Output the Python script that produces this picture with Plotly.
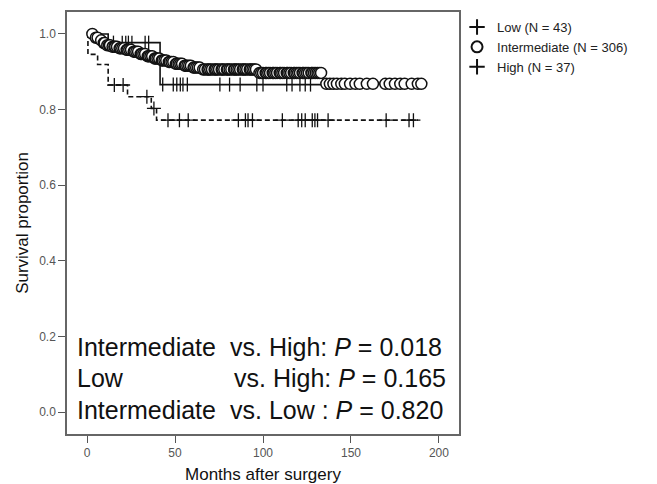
import numpy as np
import plotly.graph_objects as go

# ---------------- data ----------------
low_event_t = [12, 41.5]
low_surv = [0.977, 0.866]
low_censor = [15, 20, 22, 23.5, 25.5, 33, 35, 43, 49, 51, 53, 54.5, 57, 75.5, 81, 87,
              96.5, 100, 113.5, 116.5, 121, 124, 127]
low_end = 133

int_event_t = [4, 7, 9, 11, 14, 18, 22, 26, 30, 34, 38, 42, 46, 50, 55, 60, 65, 97, 134]
int_surv = [0.99, 0.983, 0.976, 0.97, 0.966, 0.962, 0.958, 0.953, 0.947, 0.941, 0.935,
            0.930, 0.926, 0.921, 0.916, 0.911, 0.906, 0.897, 0.868]
int_censor = [3, 5, 6, 8, 9.5, 10, 11.5, 12.5, 13, 14.5, 15.5, 16, 17, 18.5, 19, 20, 21,
              22.5, 23, 24, 25, 26.5, 27, 28, 29, 30.5, 31, 32, 33, 34.5, 35, 36, 37, 38.5,
              39, 40, 41, 42.5, 43, 44, 45, 46.5, 47, 48, 49, 50.5, 51, 52, 53, 54, 55.5,
              56, 57, 58, 59, 60.5, 61, 62, 63, 64, 66, 67, 68.5, 69, 70, 71, 72.5, 73, 74,
              75, 76.5, 77, 78, 79.5, 80, 81, 82, 83.5, 84, 85, 86, 87, 88.5, 89, 90, 91,
              92.5, 93, 94, 95, 96, 98, 99, 100, 101.5, 102, 103, 104, 105.5, 106, 107, 108,
              109.5, 110, 111, 112, 113.5, 114, 115, 116, 117.5, 118, 119, 120, 121, 122.5,
              123, 124, 125, 126, 127.5, 128, 129, 130, 131, 132, 133,
              136, 138, 140, 142, 144.5, 146.5, 149.5, 152.5, 155, 159, 162.5, 169.5, 172,
              175, 178, 180.5, 184.5, 188, 190]
int_end = 190

high_event_t = [0.5, 6, 12, 23, 36.5, 39.5]
high_surv = [0.946, 0.919, 0.865, 0.834, 0.803, 0.772]
high_censor = [15.5, 20.5, 34, 38, 46, 52.5, 57.5, 86, 90, 91.5, 94, 111, 120, 122, 124,
               128, 129.5, 131, 137, 170, 183, 185.5]
high_end = 188

x_ticks = [0, 50, 100, 150, 200]
y_ticks = [0.0, 0.2, 0.4, 0.6, 0.8, 1.0]

legend_names = ["Low (N = 43)", "Intermediate (N = 306)", "High (N = 37)"]
p_lines = [("Intermediate", "vs. High: <i>P</i> = 0.018"),
           ("Low", "vs. High: <i>P</i> = 0.165"),
           ("Intermediate", "vs. Low : <i>P</i> = 0.820")]

FONT = "Liberation Sans, Arial, sans-serif"


def step_xy(ev_t, surv, end):
    xs = [0] + list(ev_t) + [end]
    ys = [1.0] + list(surv) + [surv[-1]]
    return xs, ys


def surv_at(ev_t, surv, times):
    et = np.array(ev_t)
    sv = np.array([1.0] + list(surv))
    idx = np.searchsorted(et, np.array(times), side="right")
    return sv[idx]


fig = go.Figure()

# Low
lx, ly = step_xy(low_event_t, low_surv, low_end)
fig.add_trace(go.Scatter(x=lx, y=ly, mode="lines", line=dict(color="#111", width=1.6, shape="hv"),
                         showlegend=False, hoverinfo="skip"))
fig.add_trace(go.Scatter(x=low_censor, y=surv_at(low_event_t, low_surv, low_censor), mode="markers",
                         marker=dict(symbol="line-ns", size=10, line=dict(color="#111", width=1.3)),
                         showlegend=False))

# High
hx, hy = step_xy(high_event_t, high_surv, high_end)
fig.add_trace(go.Scatter(x=hx, y=hy, mode="lines",
                         line=dict(color="#111", width=1.6, shape="hv", dash="5px,3px"),
                         showlegend=False, hoverinfo="skip"))
fig.add_trace(go.Scatter(x=high_censor, y=surv_at(high_event_t, high_surv, high_censor), mode="markers",
                         marker=dict(symbol="cross-thin", size=10, line=dict(color="#111", width=1.3)),
                         showlegend=False))

# Intermediate
ix, iy = step_xy(int_event_t, int_surv, int_end)
fig.add_trace(go.Scatter(x=ix, y=iy, mode="lines", line=dict(color="#111", width=1.6, shape="hv"),
                         showlegend=False, hoverinfo="skip"))
fig.add_trace(go.Scatter(x=int_censor, y=surv_at(int_event_t, int_surv, int_censor), mode="markers",
                         marker=dict(symbol="circle", size=11, color="white",
                                     line=dict(color="#111", width=1.5)),
                         showlegend=False))

# legend entries
leg_symbols = ["cross-thin", "circle-open", "cross-thin"]
for name, sym in zip(legend_names, leg_symbols):
    fig.add_trace(go.Scatter(x=[None], y=[None], mode="markers", name=name,
                             marker=dict(symbol=sym, size=11, color="#111",
                                         line=dict(color="#111", width=2))))

# P-value annotations
left_x = 0.021
vs_x = [0.411, 0.421, 0.411]
ys = [0.206, 0.133, 0.057]
for (a, b), vx, yy in zip(p_lines, vs_x, ys):
    fig.add_annotation(x=left_x, y=yy, xref="paper", yref="paper", text=a, showarrow=False,
                       xanchor="left", yanchor="middle", font=dict(size=25, color="#111", family=FONT))
    fig.add_annotation(x=vx, y=yy, xref="paper", yref="paper", text=b, showarrow=False,
                       xanchor="left", yanchor="middle", font=dict(size=25, color="#111", family=FONT))

fig.update_layout(
    width=657, height=484,
    margin=dict(l=67, r=198, t=12, b=50),
    paper_bgcolor="white", plot_bgcolor="white",
    font=dict(family=FONT, color="#111"),
    showlegend=True,
    legend=dict(x=0.995, y=1.0, xanchor="left", yanchor="top", itemwidth=30,
                font=dict(size=13, color="#222", family=FONT), bgcolor="rgba(0,0,0,0)",
                tracegroupgap=0),
)
fig.update_xaxes(range=[-11.4, 211.4], tickvals=x_ticks, ticks="outside", ticklen=7, tickwidth=1,
                 tickcolor="#555", showline=True, mirror=True, linecolor="#666", linewidth=1.5,
                 showgrid=False, zeroline=False, tickfont=dict(size=12, color="#555"),
                 ticklabelstandoff=0, automargin=False,
                 title=dict(text="Months after surgery", font=dict(size=17, color="#111"), standoff=14))
fig.update_yaxes(range=[-0.058, 1.058], tickvals=y_ticks, tickformat=".1f", ticks="outside",
                 ticklen=7, tickwidth=1, tickcolor="#555", showline=True, mirror=True,
                 linecolor="#666", linewidth=1.5, showgrid=False, zeroline=False,
                 tickfont=dict(size=12, color="#555"), automargin=False,
                 title=dict(text="Survival proportion", font=dict(size=17, color="#111"), standoff=6))

fig.write_html("out.html")
